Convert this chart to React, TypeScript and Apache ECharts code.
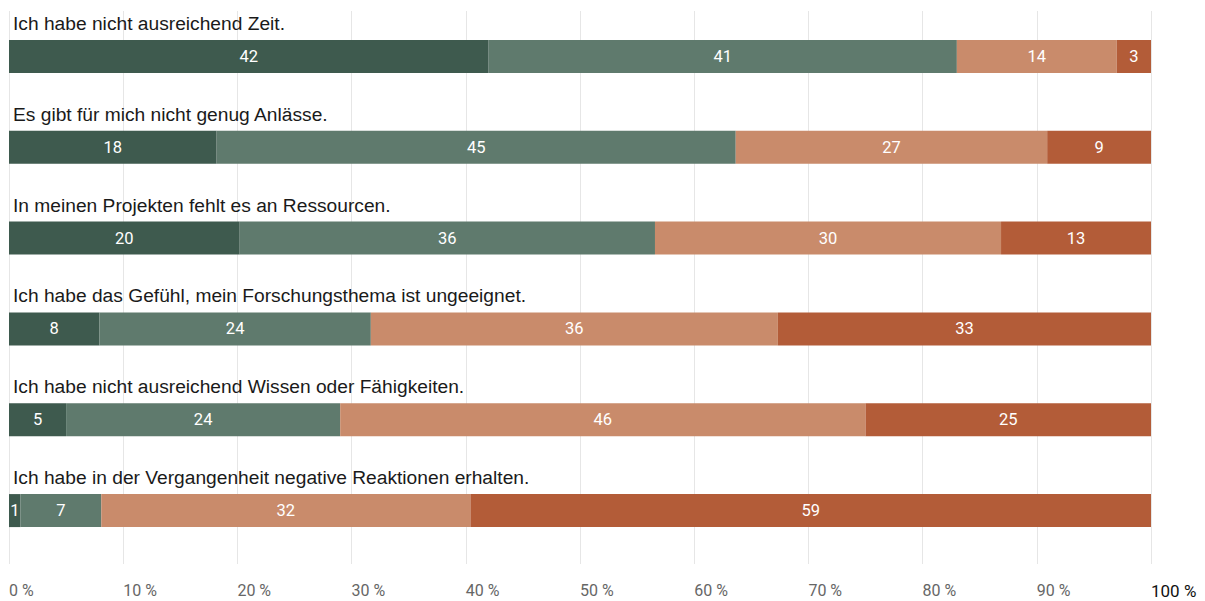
import React, { useEffect, useRef } from "react";
import * as echarts from "echarts";

const categories = [
  "Ich habe nicht ausreichend Zeit.",
  "Es gibt für mich nicht genug Anlässe.",
  "In meinen Projekten fehlt es an Ressourcen.",
  "Ich habe das Gefühl, mein Forschungsthema ist ungeeignet.",
  "Ich habe nicht ausreichend Wissen oder Fähigkeiten.",
  "Ich habe in der Vergangenheit negative Reaktionen erhalten.",
];

const seriesNames = ["trifft voll zu", "trifft eher zu", "trifft eher nicht zu", "trifft nicht zu"];
const valuesA = [42, 18, 20, 8, 5, 1];
const valuesB = [41, 45, 36, 24, 24, 7];
const valuesC = [14, 27, 30, 36, 46, 32];
const valuesD = [3, 9, 13, 33, 25, 59];
const colors = ["#3e5a4e", "#5f7a6d", "#c98b6b", "#b35c38"];

export default function App() {
  const ref = useRef<HTMLDivElement>(null);
  useEffect(() => {
    if (!ref.current) return;
    const chart = echarts.init(ref.current, undefined, { renderer: "svg" });
    const all = [valuesA, valuesB, valuesC, valuesD];
    const totals = categories.map((_, i) => all.reduce((s, arr) => s + arr[i], 0));
    chart.setOption({
      animation: false,
      grid: { left: 9, right: 54, top: 11, height: 545 },
      xAxis: {
        type: "value",
        min: 0,
        max: 100,
        interval: 10,
        axisLine: { show: false },
        axisTick: { show: true, length: 8, lineStyle: { color: "#e6e6e6" } },
        splitLine: { show: true, lineStyle: { color: "#e6e6e6", width: 1 } },
        axisLabel: {
          align: "left",
          margin: 26,
          color: "#666",
          fontFamily: "Roboto",
          fontSize: 16,
          formatter: (v: number) => (v === 100 ? "{b|100 %}" : `${v} %`),
          rich: { b: { color: "#111", fontSize: 17, fontFamily: "Roboto" } },
        },
      },
      yAxis: {
        type: "category",
        inverse: true,
        data: categories,
        axisLine: { show: false },
        axisTick: { show: false },
        splitLine: { show: false },
        axisLabel: {
          inside: true,
          interval: 0,
          margin: 4,
          align: "left",
          verticalAlign: "middle",
          formatter: (v: string) => `{t|${v}}\n{s|}`,
          rich: {
            t: { color: "#1a1a1a", fontFamily: "Liberation Sans", fontSize: 19.2, lineHeight: 20 },
            s: { fontSize: 1, lineHeight: 66, height: 66 },
          },
        },
        z: 10,
      },
      series: all.map((arr, si) => ({
        name: seriesNames[si],
        type: "bar",
        stack: "total",
        barWidth: 33,
        itemStyle: { color: colors[si] },
        data: arr.map((v, i) => (v / totals[i]) * 100),
        label: {
          show: true,
          position: "inside",
          color: "#fff",
          fontFamily: "Roboto",
          fontSize: 16.5,
          formatter: (p: any) => String(arr[p.dataIndex]),
        },
      })),
    });
    return () => chart.dispose();
  }, []);
  return (
    <div
      ref={ref}
      style={{ position: "fixed", left: 0, top: 0, width: 1205, height: 601, background: "#fff" }}
    />
  );
}
